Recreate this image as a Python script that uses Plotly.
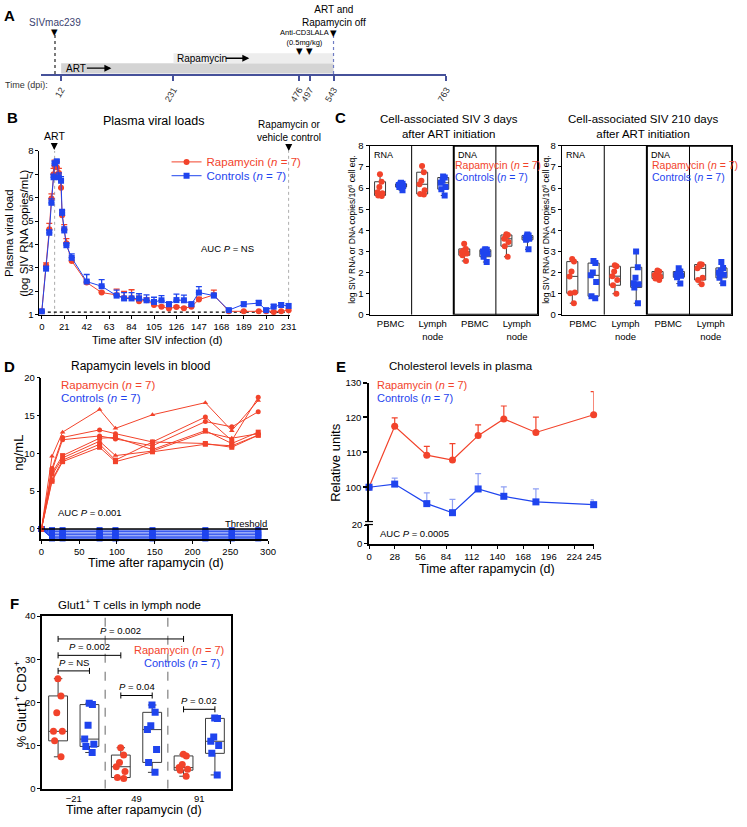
import plotly.graph_objects as go

W, H = 747, 827
RED = '#F2432B'
BLUE = '#1F44EE'
BLUE_LIGHT = '#8FA0F4'
FONT = 'Liberation Sans, Arial, Helvetica, sans-serif'

# ---------- A: study timeline (days post infection)
a_ticks = [12, 231, 476, 497, 543, 763]
siv_day = 0
art_start = 12
rapa_start = 231
stop_day = 543
cd3_days = [476, 497]

# ---------- B: plasma viral loads, mean + SEM
b_days = [0, 4, 7, 9, 11, 12, 14, 16, 18, 19, 21, 23, 28, 42, 56, 70, 77, 84, 91, 98,
          105, 112, 119, 126, 133, 140, 147, 161, 175, 189, 203, 210, 217, 224, 231]
b_rapa = [1.15, 3.10, 4.65, 5.96, 7.00, 7.37, 7.30, 7.05, 6.42, 5.25, 4.65, 4.05, 3.30, 2.38,
          1.95, 1.85, 1.72, 1.72, 1.58, 1.62, 1.42, 1.35, 1.27, 1.33, 1.28, 1.35, 1.65, 1.85,
          1.15, 1.15, 1.15, 1.15, 1.12, 1.15, 1.20]
b_rapa_sem = [0, .12, .25, .2, .25, .23, .2, .2, .35, .2, .2, .2, .15, .1, .05, .25, .28, .35,
              .22, .1, .1, .05, .05, .05, .05, .05, .1, .2, .03, .03, .03, .03, .03, .03, .05]
b_ctrl = [1.15, 2.97, 4.50, 5.78, 6.87, 7.46, 7.55, 6.87, 6.72, 5.35, 4.60, 3.97, 3.43, 2.42,
          2.22, 1.82, 1.70, 1.70, 1.70, 1.62, 1.55, 1.62, 1.45, 1.63, 1.62, 1.45, 1.95, 1.82,
          1.20, 1.45, 1.50, 1.20, 1.35, 1.42, 1.38]
b_ctrl_sem = [0, .1, .12, .17, .13, .1, .06, .18, .18, .15, .15, .1, .17, .3, .28, .23, .25, .25,
              .2, .23, .2, .2, .1, .25, .22, .1, .25, .1, .05, .1, .12, .05, .1, .1, .1]
b_ticks = list(range(0, 232, 21))
b_threshold = 1.12
b_art_day = 12
b_rapa_day = 231

# ---------- C: cell-associated SIV (log copies / 10^6 cell eq.)
c_labels = ['PBMC', 'Lymph<br>node', 'PBMC', 'Lymph<br>node']
# 3 days after ART: RNA PBMC, RNA LN, DNA PBMC, DNA LN
c3_rapa = [[6.65, 6.3, 6.05, 5.8, 5.75, 5.65, 5.62],
           [7.05, 6.75, 6.35, 6.18, 5.9, 5.72, 5.7],
           [3.37, 3.12, 3.05, 2.98, 2.9, 2.82, 2.55],
           [3.82, 3.78, 3.7, 3.6, 3.45, 3.25, 2.75]]
c3_ctrl = [[6.25, 6.2, 6.2, 6.15, 6.1, 6.05, 5.9],
           [6.55, 6.5, 6.35, 6.25, 6.05, 5.95, 5.65],
           [3.1, 3.08, 3.05, 3.0, 2.9, 2.75, 2.5],
           [3.8, 3.75, 3.72, 3.65, 3.6, 3.55, 3.1]]
# 210 days after ART
c210_rapa = [[2.64, 2.52, 2.05, 1.82, 1.06, 1.02, 0.55],
             [2.35, 2.3, 2.05, 1.83, 1.65, 1.4, 1.0],
             [2.1, 2.05, 1.95, 1.88, 1.8, 1.72, 1.65],
             [2.4, 2.38, 2.3, 2.2, 1.75, 1.65, 1.45]]
c210_ctrl = [[2.55, 2.45, 2.0, 1.87, 1.55, 0.88, 0.78],
             [3.0, 2.25, 1.75, 1.5, 1.45, 1.3, 0.55],
             [2.2, 2.05, 1.95, 1.9, 1.85, 1.78, 1.48],
             [2.5, 2.22, 2.1, 2.0, 1.9, 1.75, 1.5]]

# ---------- D: rapamycin levels in blood (ng/mL), one line per animal
d_days = [0, 14, 28, 77, 98, 147, 217, 252, 287]
d_rapa = [[0, 9.6, 12.8, 15.8, 13.3, 15.1, 16.7, 13.0, 17.0],
          [0, 8.0, 12.1, 13.1, 12.6, 11.5, 14.8, 11.7, 17.4],
          [0, 7.7, 11.8, 12.3, 11.9, 11.0, 14.2, 13.5, 15.5],
          [0, 7.4, 9.7, 12.0, 12.1, 10.5, 13.0, 11.3, 12.8],
          [0, 7.1, 9.4, 11.6, 9.7, 10.3, 12.8, 12.0, 12.6],
          [0, 6.5, 9.1, 11.2, 9.1, 11.5, 11.3, 10.8, 12.4],
          [0, 6.3, 8.9, 10.8, 8.9, 10.2, 11.2, 11.0, 12.4]]
d_rapa_symbols = ['triangle-up', 'circle', 'circle', 'square', 'triangle-up', 'square', 'square']
d_ctrl = [[0, -0.15, -0.15, -0.15, -0.15, -0.15, -0.15, -0.15, -0.15],
          [0, -0.35, -0.35, -0.35, -0.35, -0.35, -0.35, -0.35, -0.35],
          [0, -0.55, -0.55, -0.55, -0.55, -0.55, -0.55, -0.55, -0.55],
          [0, -0.75, -0.75, -0.75, -0.75, -0.75, -0.75, -0.75, -0.75],
          [0, -0.95, -0.95, -0.95, -0.95, -0.95, -0.95, -0.95, -0.95],
          [0, -1.1, -1.1, -1.1, -1.1, -1.1, -1.1, -1.1, -1.1],
          [0, -1.25, -1.25, -1.25, -1.25, -1.25, -1.25, -1.25, -1.25]]

# ---------- E: cholesterol (relative units), mean + SEM
e_days = [0, 28, 63, 91, 119, 147, 182, 245]
e_rapa = [100, 117.5, 109.2, 107.8, 114.8, 119.6, 115.7, 120.8]
e_rapa_sem = [0, 2.4, 2.5, 4.7, 3.1, 3.7, 4.4, 6.6]
e_ctrl = [100, 100.9, 95.3, 92.7, 99.5, 97.4, 95.8, 95.0]
e_ctrl_sem = [0, 1.7, 3.1, 3.8, 4.4, 2.7, 3.7, 1.4]
e_ticks = [0, 28, 56, 84, 112, 140, 168, 196, 224, 245]

# ---------- F: Glut1+ T cells in lymph node (%)
f_groups = ['\u221221', '49', '91']
f_rapa = [[25.5, 21.5, 17.6, 13.3, 13.3, 11.1, 7.4],
          [9.5, 7.8, 6.1, 5.1, 4.0, 2.6, 2.4],
          [8.0, 7.6, 5.6, 4.9, 4.5, 4.3, 2.9]]
f_ctrl = [[19.8, 19.5, 14.7, 11.5, 10.3, 9.8, 8.4],
          [19.4, 17.7, 14.6, 13.7, 9.1, 6.1, 3.8],
          [16.4, 16.3, 12.0, 11.0, 10.0, 8.2, 3.2]]
# (group a, arm a, group b, arm b, height, label)
f_brackets = [(0, 'r', 2, 'r', 34.7, '0.002'),
              (0, 'r', 1, 'r', 30.9, '0.002'),
              (0, 'r', 0, 'c', 27.3, 'NS'),
              (1, 'r', 1, 'c', 21.6, '0.04'),
              (2, 'r', 2, 'c', 18.4, '0.02')]


def dx(a, b):
    return [a / W, b / W]


def dy(top, bottom):
    return [1 - bottom / H, 1 - top / H]


def axis(domain, rng, **kw):
    d = dict(domain=domain, range=rng, showgrid=False, zeroline=False, showline=True,
             linecolor='black', linewidth=1.2, ticks='outside', ticklen=3, tickwidth=1,
             tickcolor='black', tickfont=dict(family=FONT, size=9.5, color='black'),
             fixedrange=True)
    d.update(kw)
    return d


fig = go.Figure()
shapes = []
ann = []


def txt(x, y, text, size=10, color='black', xanchor='center', yanchor='middle', angle=0):
    ann.append(dict(x=x / W, y=1 - y / H, xref='paper', yref='paper', text=text,
                    showarrow=False, font=dict(family=FONT, size=size, color=color),
                    xanchor=xanchor, yanchor=yanchor, textangle=angle))


def arrow(x, y, text, ax, ay, size=10):
    ann.append(dict(x=x / W, y=1 - y / H, xref='paper', yref='paper', text=text,
                    showarrow=True, ax=ax, ay=ay, arrowhead=2, arrowsize=1, arrowwidth=1.4,
                    arrowcolor='black', font=dict(family=FONT, size=size, color='black')))


def five_num(vals):
    s = sorted(vals)
    n = len(s)
    half = n // 2

    def med(a):
        m = len(a) // 2
        return a[m] if len(a) % 2 else (a[m - 1] + a[m]) / 2
    return s[0], med(s[:half]), med(s), med(s[n - half:]), s[-1]


def add_box(vals, pos, color, symbol, xa, ya, width, msize=6):
    lo, q1, md, q3, hi = five_num(vals)
    fig.add_trace(go.Box(x=[pos], q1=[q1], median=[md], q3=[q3], lowerfence=[lo],
                         upperfence=[hi], width=width, xaxis=xa, yaxis=ya,
                         fillcolor='rgba(0,0,0,0)', line=dict(color='#3c3c3c', width=1),
                         whiskerwidth=0.45, boxpoints=False, showlegend=False,
                         hoverinfo='skip'))
    fig.add_trace(go.Box(x=[pos] * len(vals), y=vals, width=width, xaxis=xa, yaxis=ya,
                         boxpoints='all', jitter=0.6, pointpos=0,
                         fillcolor='rgba(0,0,0,0)', line=dict(color='rgba(0,0,0,0)', width=0),
                         whiskerwidth=0, marker=dict(color=color, symbol=symbol, size=msize),
                         showlegend=False, hoverinfo='skip'))


# ================= A
shapes.append(dict(type='rect', xref='x', yref='y', x0=art_start, x1=stop_day, y0=0.5, y1=11,
                   fillcolor='#d4d4d4', line=dict(width=0), layer='below'))
shapes.append(dict(type='rect', xref='x', yref='y', x0=rapa_start, x1=stop_day, y0=11, y1=21,
                   fillcolor='#ededed', line=dict(width=0), layer='below'))
shapes.append(dict(type='line', xref='x', yref='y', x0=siv_day, x1=siv_day, y0=0, y1=41,
                   line=dict(color='#222', width=1.2, dash='dot')))
shapes.append(dict(type='line', xref='x', yref='y', x0=stop_day, x1=stop_day, y0=0, y1=41,
                   line=dict(color='#6f7cc4', width=1.2, dash='dot')))
for d, yy in [(siv_day, 43), (stop_day, 42)] + [(c, 23) for c in cd3_days]:
    ann.append(dict(x=d, y=yy, xref='x', yref='y', text='\u25bc', showarrow=False,
                    font=dict(family='DejaVu Sans', size=8.5, color='black')))
ann.append(dict(x=siv_day, y=52, xref='x', yref='y', text='SIVmac239', showarrow=False,
                font=dict(family=FONT, size=10, color='#3a4270')))
ann.append(dict(x=stop_day, y=59, xref='x', yref='y', text='ART and<br>Rapamycin off',
                showarrow=False, font=dict(family=FONT, size=10, color='black')))
ann.append(dict(x=sum(cd3_days) / 2, y=37.5, xref='x', yref='y',
                text='Anti-CD3LALA<br>(0.5mg/kg)', showarrow=False,
                font=dict(family=FONT, size=7.5, color='black')))
txt(62, 63, 'ART', 10, xanchor='left')
arrow(110, 63, '', -26, 0)
txt(175, 53, 'Rapamycin', 10, xanchor='left')
arrow(250, 53, '', -25, 0)
txt(0, 80, 'Time (dpi):', 9, color='#333', xanchor='left')
txt(7, 10, '<b>A</b>', 15)
fig.add_trace(go.Scatter(x=[siv_day], y=[-5], xaxis='x', yaxis='y', mode='markers',
                         marker=dict(opacity=0), showlegend=False, hoverinfo='skip'))

# ================= B
shapes.append(dict(type='line', xref='x2', yref='y2', x0=b_art_day, x1=b_art_day, y0=1, y1=8,
                   line=dict(color='#aaa', width=1, dash='dot'), layer='below'))
shapes.append(dict(type='line', xref='x2', yref='y2', x0=b_rapa_day, x1=b_rapa_day, y0=1, y1=8,
                   line=dict(color='#aaa', width=1, dash='dot'), layer='below'))
shapes.append(dict(type='line', xref='x2', yref='y2', x0=0, x1=b_rapa_day, y0=b_threshold,
                   y1=b_threshold, line=dict(color='black', width=1.2, dash='dot'),
                   layer='below'))
fig.add_trace(go.Scatter(
    x=b_days, y=b_rapa, xaxis='x2', yaxis='y2', mode='lines+markers', cliponaxis=False,
    name='<span style="color:%s">Rapamycin (<i>n</i> = 7)</span>' % RED, legend='legend',
    line=dict(color=RED, width=1), marker=dict(color=RED, size=6, symbol='circle'),
    error_y=dict(type='data', array=b_rapa_sem, arrayminus=[0] * len(b_rapa_sem),
                 symmetric=False, color=RED, thickness=1.3, width=3)))
fig.add_trace(go.Scatter(
    x=b_days, y=b_ctrl, xaxis='x2', yaxis='y2', mode='lines+markers', cliponaxis=False,
    name='<span style="color:%s">Controls (<i>n</i> = 7)</span>' % BLUE, legend='legend2',
    line=dict(color=BLUE, width=1), marker=dict(color=BLUE, size=6, symbol='square'),
    error_y=dict(type='data', array=b_ctrl_sem, arrayminus=[0] * len(b_ctrl_sem),
                 symmetric=False, color=BLUE, thickness=1.3, width=3)))
txt(10, 113, '<b>B</b>', 15)
txt(153, 117, 'Plasma viral loads', 12.5)
arrow(52, 146, 'ART', 0, -14, 10.5)
arrow(290, 147, 'Rapamycin or<br>vehicle control', 0, -20, 10)
txt(228, 246, 'AUC <i>P</i> = NS', 9.5)
txt(14, 230, 'Plasma viral load<br>(log SIV RNA copies/mL)', 11.5, angle=-90)
txt(156, 339, 'Time after SIV infection (d)', 11)

# ================= C
for xa, ya, rapa, ctrl in [('x3', 'y3', c3_rapa, c3_ctrl), ('x4', 'y4', c210_rapa, c210_ctrl)]:
    for g in range(4):
        add_box(rapa[g], g + 0.25, RED, 'circle', xa, ya, 0.26)
        add_box(ctrl[g], g + 0.75, BLUE, 'square', xa, ya, 0.26)
    for sep in [1, 3]:
        shapes.append(dict(type='line', xref=xa, yref=ya, x0=sep, x1=sep, y0=0, y1=8,
                           line=dict(color='black', width=1)))
    shapes.append(dict(type='rect', xref=xa, yref=ya, x0=2, x1=4, y0=0, y1=8,
                       line=dict(color='black', width=2)))
    for lab, xx in [('RNA', 0.06), ('DNA', 2.06)]:
        ann.append(dict(x=xx, y=7.9, xref=xa, yref=ya, text=lab, showarrow=False,
                        xanchor='left', yanchor='top',
                        font=dict(family=FONT, size=9, color='black')))
txt(343, 113, '<b>C</b>', 15)
txt(453, 122.5, 'Cell-associated SIV 3 days<br>after ART initiation', 11.5)
txt(650, 122.5, 'Cell-associated SIV 210 days<br>after ART initiation', 11.5)
for lx in [457, 656.5]:
    txt(lx, 161, 'Rapamycin (<i>n</i> = 7)', 10.5, RED, xanchor='left')
    txt(lx, 173, 'Controls (<i>n</i> = 7)', 10.5, BLUE, xanchor='left')
for lx in [355, 552]:
    txt(lx, 227, 'log SIV RNA or DNA copies/10<sup>6</sup> cell eq.', 8.5, angle=-90)

# ================= D
for row in d_ctrl:
    fig.add_trace(go.Scatter(x=d_days, y=row, xaxis='x5', yaxis='y5', mode='lines+markers',
                             cliponaxis=False, line=dict(color=BLUE, width=1),
                             marker=dict(color=BLUE, symbol='square', size=6),
                             showlegend=False, hoverinfo='skip'))
for row, sym in zip(d_rapa, d_rapa_symbols):
    fig.add_trace(go.Scatter(x=d_days, y=row, xaxis='x5', yaxis='y5', mode='lines+markers',
                             cliponaxis=False, line=dict(color=RED, width=1),
                             marker=dict(color=RED, symbol=sym, size=5),
                             showlegend=False, hoverinfo='skip'))
shapes.append(dict(type='line', xref='x5', yref='y5', x0=0, x1=300, y0=0, y1=0,
                   line=dict(color='black', width=1.5)))
txt(7, 365, '<b>D</b>', 15)
txt(140, 365, 'Rapamycin levels in blood', 12)
txt(57, 384, 'Rapamycin (<i>n</i> = 7)', 11.5, RED, xanchor='left')
txt(57, 397, 'Controls (<i>n</i> = 7)', 11.5, BLUE, xanchor='left')
txt(54, 513, 'AUC <i>P</i> = 0.001', 9.5, xanchor='left')
txt(270, 524, 'Threshold', 9.5, xanchor='right')
txt(16, 453, 'ng/mL', 13, angle=-90)
txt(155, 565, 'Time after rapamycin (d)', 12.5)

# ================= E
fig.add_trace(go.Scatter(
    x=e_days, y=e_rapa, xaxis='x6', yaxis='y6', mode='lines+markers', cliponaxis=False,
    line=dict(color=RED, width=1.2), marker=dict(color=RED, size=7, symbol='circle'),
    error_y=dict(type='data', array=e_rapa_sem, arrayminus=[0] * len(e_rapa_sem),
                 symmetric=False, color=RED, thickness=1.2, width=3),
    showlegend=False, hoverinfo='skip'))
fig.add_trace(go.Scatter(
    x=e_days, y=e_ctrl, xaxis='x6', yaxis='y6', mode='lines+markers', cliponaxis=False,
    line=dict(color=BLUE, width=1.2), marker=dict(color=BLUE, size=7, symbol='square'),
    error_y=dict(type='data', array=e_ctrl_sem, arrayminus=[0] * len(e_ctrl_sem),
                 symmetric=False, color=BLUE_LIGHT, thickness=1.2, width=3),
    showlegend=False, hoverinfo='skip'))
fig.add_trace(go.Scatter(x=[0], y=[-10], xaxis='x6', yaxis='y7', mode='markers',
                         marker=dict(opacity=0), showlegend=False, hoverinfo='skip'))
for yb in [522.5, 525.5]:
    shapes.append(dict(type='line', xref='paper', yref='paper', x0=367.5 / W, x1=375.5 / W,
                       y0=1 - yb / H, y1=1 - yb / H, line=dict(color='black', width=1.2)))
txt(343, 365, '<b>E</b>', 15)
txt(465, 365, 'Cholesterol levels in plasma', 11.5)
txt(378, 384, 'Rapamycin (<i>n</i> = 7)', 11, RED, xanchor='left')
txt(378, 397, 'Controls (<i>n</i> = 7)', 11, BLUE, xanchor='left')
txt(381, 535, 'AUC <i>P</i> = 0.0005', 9.5, xanchor='left')
txt(338, 463, 'Relative units', 13, angle=-90)
txt(491, 571, 'Time after rapamycin (d)', 12.5)

# ================= F
f_pos = {'r': -0.25, 'c': 0.25}
for g in range(3):
    add_box(f_rapa[g], g + f_pos['r'], RED, 'circle', 'x8', 'y8', 0.3, 7)
    add_box(f_ctrl[g], g + f_pos['c'], BLUE, 'square', 'x8', 'y8', 0.3, 7)
for sep in [0.5, 1.5]:
    shapes.append(dict(type='line', xref='x8', yref='y8', x0=sep, x1=sep, y0=0, y1=40,
                       line=dict(color='#666', width=1, dash='dash')))
for ga, aa, gb, ab, yy, lab in f_brackets:
    xa_, xb_ = ga + f_pos[aa], gb + f_pos[ab]
    shapes.append(dict(type='path', xref='x8', yref='y8',
                       path='M %f %f L %f %f M %f %f L %f %f M %f %f L %f %f' % (
                           xa_, yy, xb_, yy, xa_, yy - 0.7, xa_, yy + 0.7,
                           xb_, yy - 0.7, xb_, yy + 0.7),
                       line=dict(color='black', width=1)))
    ann.append(dict(x=(xa_ + xb_) / 2, y=yy + 0.3, xref='x8', yref='y8',
                    text='<i>P</i> = ' + lab, showarrow=False, yanchor='bottom',
                    font=dict(family=FONT, size=9.5, color='black')))
txt(12, 606, '<b>F</b>', 15)
txt(128, 606, 'Glut1<sup>+</sup> T cells in lymph node', 11.5)
txt(226, 653, 'Rapamycin (<i>n</i> = 7)', 11, RED, xanchor='right')
txt(222, 666, 'Controls (<i>n</i> = 7)', 11, BLUE, xanchor='right')
txt(17, 707, '% Glut1<sup>+</sup> CD3<sup>+</sup>', 13, angle=-90)
txt(133, 815, 'Time after rapamycin (d)', 12.5)

legend_base = dict(xanchor='left', yanchor='middle', bgcolor='rgba(0,0,0,0)', borderwidth=0,
                   font=dict(family=FONT, size=11.5), itemwidth=30, tracegroupgap=0)

fig.update_layout(
    width=W, height=H, autosize=False, margin=dict(l=0, r=0, t=0, b=0),
    paper_bgcolor='white', plot_bgcolor='rgba(0,0,0,0)', showlegend=True,
    legend=dict(legend_base, x=166 / W, y=1 - 158 / H),
    legend2=dict(legend_base, x=166 / W, y=1 - 172 / H),
    xaxis=axis(dx(38.4, 450), [-27.6, 763], anchor='y', tickvals=a_ticks,
               ticktext=[str(t) for t in a_ticks], tickangle=-60, linecolor='#46519a',
               linewidth=2, tickcolor='#46519a', tickwidth=1.5, ticklen=5,
               tickfont=dict(family=FONT, size=9, color='#333')),
    yaxis=dict(domain=dy(0, 69), range=[0, 69], visible=False, fixedrange=True, anchor='x'),
    xaxis2=axis(dx(37, 291), [-2.2, 232], anchor='y2', tickvals=b_ticks),
    yaxis2=axis(dy(146.7, 313), [1, 8], anchor='x2', dtick=1),
    xaxis3=axis(dx(372, 543), [0, 4], anchor='y3', tickvals=[0.5, 1.5, 2.5, 3.5],
                ticktext=c_labels, ticks='', mirror=True, linewidth=1),
    yaxis3=axis(dy(141.7, 313), [0, 8], anchor='x3', dtick=1, mirror=True, linewidth=1),
    xaxis4=axis(dx(567, 740), [0, 4], anchor='y4', tickvals=[0.5, 1.5, 2.5, 3.5],
                ticktext=c_labels, ticks='', mirror=True, linewidth=1),
    yaxis4=axis(dy(141.7, 313), [0, 8], anchor='x4', dtick=1, mirror=True, linewidth=1),
    xaxis5=axis(dx(39, 269), [0, 300], anchor='y5', dtick=50, linewidth=1.5),
    yaxis5=axis(dy(376.7, 540), [-1.3, 20], anchor='x5', tickvals=[0, 5, 10, 15, 20],
                linewidth=1.5),
    xaxis6=axis(dx(371.5, 599.5), [0, 245], anchor='y7', tickvals=e_ticks, linewidth=1.5),
    yaxis6=axis(dy(381.7, 522), [90.3, 130], anchor='x6', tickvals=[100, 110, 120, 130],
                tickwidth=1.5, ticklen=4, linewidth=1.5),
    yaxis7=axis(dy(526, 545), [0, 20], anchor='x6', tickvals=[0, 20], linewidth=1.5),
    xaxis8=axis(dx(40, 231), [-0.5, 2.5], anchor='y8', tickvals=[0, 1, 2],
                ticktext=f_groups, ticks='', mirror=True, linewidth=2),
    yaxis8=axis(dy(618.3, 793.3), [0, 40], anchor='x8', dtick=10, mirror=True, linewidth=2),
    shapes=shapes, annotations=ann,
)

fig.write_html("out.html", config={'displayModeBar': False},
               post_script="document.body.style.margin='0px';")
